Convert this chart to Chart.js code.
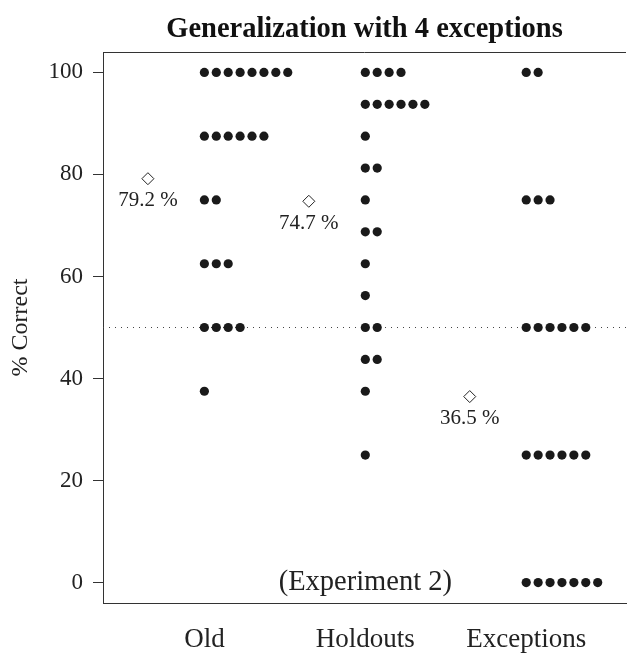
<!DOCTYPE html>
<html>
<head>
<meta charset="utf-8">
<script src="https://cdn.jsdelivr.net/npm/chart.js@4/dist/chart.umd.min.js"></script>
<style>
  html, body { margin: 0; padding: 0; overflow: hidden; background: #fff; }
</style>
</head>
<body>
<canvas id="chart" width="633" height="662"></canvas>
<script>
// values: score level and number of subjects at that level
var GROUPS = ['Old', 'Holdouts', 'Exceptions'];
var OLD_SCORES = [100, 87.5, 75, 62.5, 50, 37.5];
var OLD_COUNTS = [8, 6, 2, 3, 4, 1];
var HOLDOUT_SCORES = [100, 93.75, 87.5, 81.25, 75, 68.75, 62.5, 56.25, 50, 43.75, 37.5, 25];
var HOLDOUT_COUNTS = [4, 6, 1, 2, 1, 2, 1, 1, 2, 2, 1, 1];
var EXC_SCORES = [100, 75, 50, 25, 0];
var EXC_COUNTS = [2, 3, 6, 6, 7];
var Y_TICKS = [0, 20, 40, 60, 80, 100];
var CHANCE = 50;
var NOTE = '(Experiment 2)';
var TITLE = 'Generalization with 4 exceptions';

var STACK_STEP = 0.074;   // horizontal gap between stacked dots (x units)
var MEAN_SHIFT = -0.351;  // diamond sits left of each stack
var SERIF = "'Liberation Serif', 'DejaVu Serif', serif";
var INK = '#222';

var SCORES = [OLD_SCORES, HOLDOUT_SCORES, EXC_SCORES];
var COUNTS = [OLD_COUNTS, HOLDOUT_COUNTS, EXC_COUNTS];

function stackPoints() {
  var pts = [];
  SCORES.forEach(function(scores, g) {
    scores.forEach(function(s, k) {
      for (var j = 0; j < COUNTS[g][k]; j++) {
        pts.push({ x: g + 1 + j * STACK_STEP, y: s });
      }
    });
  });
  return pts;
}

function groupMeans() {
  return SCORES.map(function(scores, g) {
    var sum = 0, n = 0;
    scores.forEach(function(s, k) { sum += s * COUNTS[g][k]; n += COUNTS[g][k]; });
    return { x: g + 1 + MEAN_SHIFT, y: sum / n };
  });
}

var means = groupMeans();

var annotate = {
  id: 'annotate',
  beforeDatasetsDraw: function(chart) {
    var ctx = chart.ctx, a = chart.chartArea;
    ctx.save();
    ctx.strokeStyle = '#333';
    ctx.lineWidth = 1;
    ctx.beginPath();
    ctx.moveTo(a.left, a.top + 0.5);
    ctx.lineTo(a.right, a.top + 0.5);
    ctx.stroke();
    ctx.restore();
  },
  afterDatasetsDraw: function(chart) {
    var ctx = chart.ctx, xs = chart.scales.x, ys = chart.scales.y;
    ctx.save();
    ctx.fillStyle = INK;
    ctx.textAlign = 'center';
    ctx.textBaseline = 'middle';
    ctx.font = '21px ' + SERIF;
    means.forEach(function(m) {
      ctx.fillText(m.y.toFixed(1) + ' %', xs.getPixelForValue(m.x), ys.getPixelForValue(m.y) + 22);
    });
    ctx.font = '28.5px ' + SERIF;
    ctx.fillText(NOTE, xs.getPixelForValue(2), ys.getPixelForValue(0));
    ctx.restore();
  }
};

new Chart(document.getElementById('chart'), {
  type: 'scatter',
  data: {
    datasets: [
      {
        label: 'Subjects',
        data: stackPoints(),
        pointStyle: 'circle',
        pointRadius: 4.6,
        pointBackgroundColor: '#1a1a1a',
        pointBorderWidth: 0,
        order: 1,
      },
      {
        label: 'Mean',
        data: means,
        pointStyle: 'rectRot',
        pointRadius: 6,
        pointBackgroundColor: '#fff',
        pointBorderColor: INK,
        pointBorderWidth: 1,
        order: 2,
      },
      {
        label: 'Chance',
        type: 'line',
        data: [{ x: 0.37, y: CHANCE }, { x: 3.62, y: CHANCE }],
        borderColor: '#444',
        borderWidth: 1,
        borderDash: [1, 5],
        pointRadius: 0,
        order: 3,
      },
    ],
  },
  options: {
    responsive: false,
    animation: false,
    layout: { padding: 0 },
    plugins: {
      legend: { display: false },
      tooltip: { enabled: false },
      title: {
        display: true,
        text: TITLE,
        fullSize: false,
        color: '#111',
        font: { family: SERIF, size: 28.5, weight: 'bold', lineHeight: 1.2 },
        padding: { top: 13, bottom: 4.8 },
      },
    },
    scales: {
      x: {
        type: 'linear',
        min: 0.37,
        max: 3.62,
        afterBuildTicks: function(scale) {
          scale.ticks = GROUPS.map(function(g, i) { return { value: i + 1 }; });
        },
        afterFit: function(scale) { scale.height = 59; },
        grid: { display: false, drawTicks: false },
        border: { display: true, color: '#333', width: 1 },
        ticks: {
          color: INK,
          padding: 21,
          font: { family: SERIF, size: 27 },
          callback: function(v, i) { return GROUPS[i]; },
        },
      },
      y: {
        type: 'linear',
        min: -4,
        max: 104,
        afterBuildTicks: function(scale) {
          scale.ticks = Y_TICKS.map(function(v) { return { value: v }; });
        },
        afterFit: function(scale) { scale.width = 103; },
        grid: { drawOnChartArea: false, drawTicks: true, tickLength: 10, color: '#333' },
        border: { display: true, color: '#333', width: 1 },
        ticks: {
          color: INK,
          padding: 10,
          font: { family: SERIF, size: 23 },
        },
        title: {
          display: true,
          text: '% Correct',
          color: INK,
          font: { family: SERIF, size: 24 },
          padding: { top: 6, bottom: 0 },
        },
      },
    },
  },
  plugins: [annotate],
});
</script>
</body>
</html>
